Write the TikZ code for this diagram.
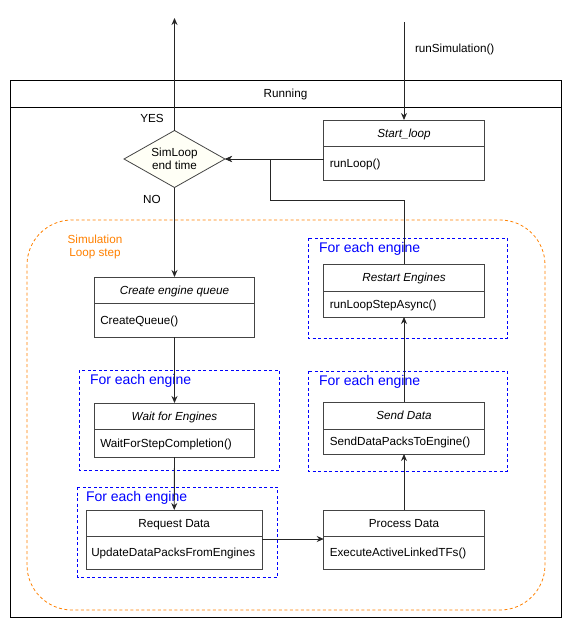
\documentclass[tikz,border=0pt]{standalone}
\usepackage{fontspec}
\setmainfont{Liberation Sans}
\usetikzlibrary{positioning,arrows.meta,shapes.geometric,calc}

\definecolor{loopcol}{RGB}{255,128,0}
\definecolor{engcol}{RGB}{0,0,255}
\definecolor{linecol}{RGB}{68,68,68}

\begin{document}
\begin{tikzpicture}[x=1pt,y=-1pt,
  every node/.style={font=\fontsize{11.7}{13.5}\selectfont, outer sep=0pt},
  oneline/.style={text height=8.5pt, text depth=0pt},
  head/.style={oneline, draw=linecol, line width=1pt, fill=white, minimum width=160.5pt, inner sep=0pt},
  body/.style={oneline, draw=linecol, line width=1pt, fill=white, text width=148.5pt, inner xsep=6pt, inner ysep=0pt, align=left},
  flow/.style={draw=black!85, line width=0.9pt, -{Stealth[length=7pt,width=6pt]}},
  eachbox/.style={draw=engcol, line width=0.9pt, dash pattern=on 3pt off 2.5pt},
  eachlabel/.style={text=engcol, font=\fontsize{14}{16}\selectfont, text height=10pt, text depth=0pt, anchor=west, inner sep=0pt}]
\useasboundingbox (0,0) rectangle (571,629);

% state frame
\node[draw, oneline, line width=0.9pt, minimum width=551pt, minimum height=27pt, inner sep=0pt] (run) at (285.5,93.5) {Running};
\draw[line width=0.9pt] (run.south west) rectangle (561,617);

% loop step area
\draw[loopcol, line width=0.8pt, dash pattern=on 3pt off 2.5pt, rounded corners=45pt] (27,220) rectangle (545,610);
\node[text=loopcol, align=center] (looplbl) at (95,247) {Simulation\\Loop step};

% per engine groups
\draw[eachbox] (308,238) rectangle (507,338);
\node[eachlabel] (each1) at (319,247) {For each engine};
\draw[eachbox] (79,370) rectangle (279,470);
\node[eachlabel] (each2) at (90,379) {For each engine};
\draw[eachbox] (308,371) rectangle (507,471);
\node[eachlabel] (each3) at (319,380) {For each engine};
\draw[eachbox] (77.5,487) rectangle (277.5,577);
\node[eachlabel] (each4) at (86,496) {For each engine};

% decision
\node[diamond, draw=linecol, line width=0.8pt, fill={rgb,255:red,255;green,255;blue,246}, aspect=1.79,
  minimum width=101pt, minimum height=57pt, inner sep=0pt, align=center] (dia) at (174.5,159) {SimLoop\\end time};
\node[oneline] (yes) at (152,118) {YES};
\node[oneline] (no) at (152,199) {NO};

% classes
\node[head, minimum height=26pt] (sth) at (404,133) {\itshape Start\_loop};
\node[body, minimum height=34pt, below=0pt of sth] (stb) {runLoop()};
\node[head, minimum height=27pt] (rsh) at (404,277.5) {\itshape Restart Engines};
\node[body, minimum height=26pt, below=0pt of rsh] (rsb) {runLoopStepAsync()};
\node[head, minimum height=27pt] (sdh) at (404,415.5) {\itshape Send Data};
\node[body, minimum height=25pt, below=0pt of sdh] (sdb) {SendDataPacksToEngine()};
\node[head, minimum height=26pt] (prh) at (404,523) {Process Data};
\node[body, minimum height=33pt, below=0pt of prh] (prb) {ExecuteActiveLinkedTFs()};
\node[head, minimum height=26pt] (cqh) at (174.5,290) {\itshape Create engine queue};
\node[body, minimum height=34pt, below=0pt of cqh] (cqb) {CreateQueue()};
\node[head, minimum height=26pt] (wth) at (174.5,416) {\itshape Wait for Engines};
\node[body, minimum height=28pt, below=0pt of wth] (wtb) {WaitForStepCompletion()};
\node[head, minimum width=176pt, minimum height=26pt] (rqh) at (174.25,523) {Request Data};
\node[body, text width=166pt, inner xsep=5pt, minimum height=33pt, below=0pt of rqh] (rqb) {\mbox{UpdateDataPacksFromEngines}};

% connectors
\coordinate (exit) at (174.5,18);
\coordinate (entry) at (404,22);
\coordinate (back) at (270.5,200);
\draw[flow] (dia.north) -- (exit);
\draw[flow] (entry) -- (sth.north);
\node[oneline, anchor=west, inner sep=0pt] (runsim) at (415,48) {runSimulation()};
\draw[flow] (stb.west |- dia.east) -- (dia.east);
\draw[flow] (rsh.north) |- (back) |- (dia.east);
\draw[flow] (dia.south) -- (cqh.north);
\draw[flow] (cqb.south) -- (wth.north);
\draw[flow] (wtb.south) -- (rqh.north);
\draw[flow] ($(rqb.north east)+(0,3)$) -- ($(prb.north west)+(0,3)$);
\draw[flow] (prh.north) -- (sdb.south);
\draw[flow] (sdh.north) -- (rsb.south);
\end{tikzpicture}
\end{document}
